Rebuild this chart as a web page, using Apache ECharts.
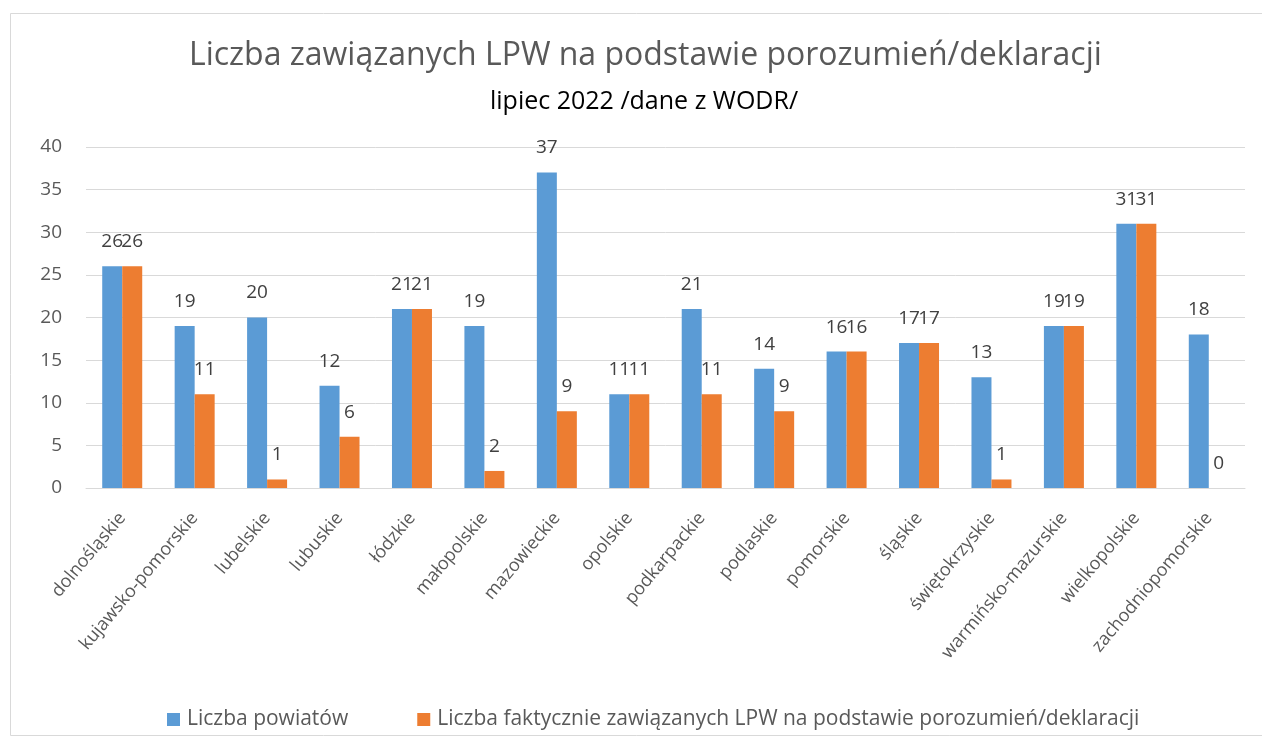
<!DOCTYPE html>
<html>
<head>
<meta charset="utf-8">
<script src="https://cdn.jsdelivr.net/npm/echarts@6/dist/echarts.min.js"></script>
<style>
html, body { margin: 0; padding: 0; background: #fff; }
#chart { width: 1262px; height: 744px; }
</style>
</head>
<body>
<div id="chart"></div>
<script>
var regions = ['dolnośląskie', 'kujawsko-pomorskie', 'lubelskie', 'lubuskie', 'łódzkie', 'małopolskie',
    'mazowieckie', 'opolskie', 'podkarpackie', 'podlaskie', 'pomorskie', 'śląskie',
    'świętokrzyskie', 'warmińsko-mazurskie', 'wielkopolskie', 'zachodniopomorskie'];
var powiaty = [26, 19, 20, 12, 21, 19, 37, 11, 21, 14, 16, 17, 13, 19, 31, 18];
var zawiazane = [26, 11, 1, 6, 21, 2, 9, 11, 11, 9, 16, 17, 1, 19, 31, 0];
var seriesNames = ['Liczba powiatów', 'Liczba faktycznie zawiązanych LPW na podstawie porozumień/deklaracji'];

var font = '"Open Sans", "Noto Sans", sans-serif';
var chart = echarts.init(document.getElementById('chart'));

var labelStyle = {
    show: true,
    position: 'top',
    distance: 15,
    color: '#404040',
    fontSize: 19,
    fontFamily: font
};

var option = {
    backgroundColor: '#fff',
    animation: false,
    graphic: [{
        type: 'rect',
        shape: { x: 10.5, y: 13.5, width: 1262, height: 722 },
        style: { fill: 'none', stroke: '#d9d9d9', lineWidth: 1 },
        silent: true
    }],
    title: [{
        text: 'Liczba zawiązanych LPW na podstawie porozumień/deklaracji',
        left: 184,
        top: 35,
        textStyle: { fontFamily: font, fontWeight: 'normal', fontSize: 32, color: '#595959' }
    }, {
        text: 'lipiec 2022 /dane z WODR/',
        left: 485,
        top: 84,
        textStyle: { fontFamily: font, fontWeight: 'normal', fontSize: 25, color: '#000' }
    }],
    legend: {
        top: 704,
        left: 162,
        icon: 'rect',
        itemWidth: 13,
        itemHeight: 13,
        itemGap: 69,
        textStyle: { fontFamily: font, fontSize: 21, color: '#595959', padding: [0, 0, 0, 2] },
        data: seriesNames
    },
    grid: {
        left: 86,
        right: 17,
        top: 147,
        bottom: 256
    },
    xAxis: {
        type: 'category',
        data: regions,
        axisLine: { lineStyle: { color: '#d9d9d9', width: 1 } },
        axisTick: { show: false },
        axisLabel: {
            rotate: 50,
            interval: 0,
            margin: 27,
            fontFamily: font,
            fontSize: 18,
            color: '#595959'
        }
    },
    yAxis: {
        type: 'value',
        min: 0,
        max: 40,
        interval: 5,
        axisLine: { show: false },
        axisTick: { show: false },
        axisLabel: { fontFamily: font, fontSize: 19, color: '#595959', margin: 24 },
        splitLine: { lineStyle: { color: '#d9d9d9', width: 1 } }
    },
    series: [{
        name: seriesNames[0],
        type: 'bar',
        data: powiaty,
        barWidth: 20,
        barGap: '0%',
        itemStyle: { color: '#5b9bd5' },
        label: labelStyle
    }, {
        name: seriesNames[1],
        type: 'bar',
        data: zawiazane,
        barWidth: 20,
        barGap: '0%',
        itemStyle: { color: '#ed7d31' },
        label: labelStyle
    }]
};

chart.setOption(option);
</script>
</body>
</html>
